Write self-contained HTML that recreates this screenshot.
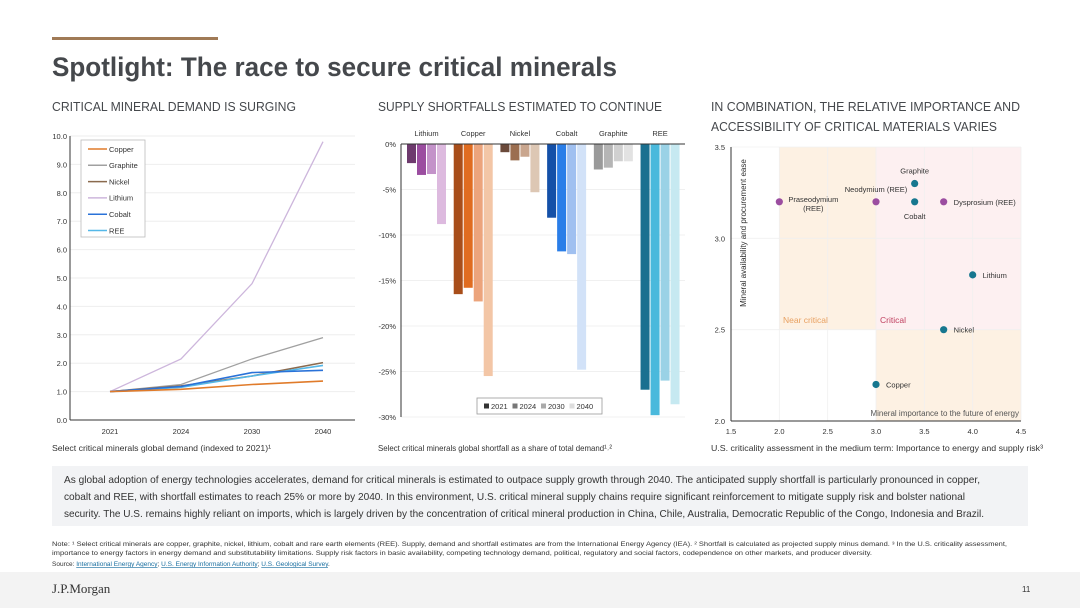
<!DOCTYPE html>
<html><head><meta charset="utf-8">
<style>
html,body{margin:0;padding:0;background:#fff;}
svg{display:block;font-family:"Liberation Sans Narrow","Liberation Sans",sans-serif;}
</style></head>
<body>
<svg id="s" width="1080" height="608" viewBox="0 0 1080 608" xmlns="http://www.w3.org/2000/svg">
<rect x="52" y="37" width="166" height="3" fill="#a07a56"/>
<text x="52" y="76" font-size="27" font-weight="bold" fill="#45484c" textLength="565" lengthAdjust="spacingAndGlyphs">Spotlight: The race to secure critical minerals</text>
<g font-size="13" fill="#45484c">
<text x="52" y="111" textLength="244" lengthAdjust="spacingAndGlyphs">CRITICAL MINERAL DEMAND IS SURGING</text>
<text x="378" y="111" textLength="284" lengthAdjust="spacingAndGlyphs">SUPPLY SHORTFALLS ESTIMATED TO CONTINUE</text>
<text x="711" y="111" textLength="309" lengthAdjust="spacingAndGlyphs">IN COMBINATION, THE RELATIVE IMPORTANCE AND</text>
<text x="711" y="131" textLength="286" lengthAdjust="spacingAndGlyphs">ACCESSIBILITY OF CRITICAL MATERIALS VARIES</text>
</g>
<g font-size="8.5" fill="#333">
<text x="52" y="451" textLength="219" lengthAdjust="spacingAndGlyphs">Select critical minerals global demand (indexed to 2021)¹</text>
<text x="378" y="451" textLength="234" lengthAdjust="spacingAndGlyphs">Select critical minerals global shortfall as a share of total demand¹˒²</text>
<text x="711" y="451" textLength="332" lengthAdjust="spacingAndGlyphs">U.S. criticality assessment in the medium term: Importance to energy and supply risk³</text>
</g>
<g id="g1"></g>
<g id="g2"></g>
<g id="g3"></g>
<rect x="52" y="466" width="976" height="60" fill="#f2f3f5"/>
<g font-size="10.5" fill="#333">
<text x="64" y="483" textLength="916" lengthAdjust="spacingAndGlyphs">As global adoption of energy technologies accelerates, demand for critical minerals is estimated to outpace supply growth through 2040. The anticipated supply shortfall is particularly pronounced in copper,</text>
<text x="64" y="500" textLength="901" lengthAdjust="spacingAndGlyphs">cobalt and REE, with shortfall estimates to reach 25% or more by 2040. In this environment, U.S. critical mineral supply chains require significant reinforcement to mitigate supply risk and bolster national</text>
<text x="64" y="517" textLength="920" lengthAdjust="spacingAndGlyphs">security. The U.S. remains highly reliant on imports, which is largely driven by the concentration of critical mineral production in China, Chile, Australia, Democratic Republic of the Congo, Indonesia and Brazil.</text>
</g>
<g font-size="6.5" fill="#333">
<text x="52" y="546" textLength="955" lengthAdjust="spacingAndGlyphs">Note: ¹ Select critical minerals are copper, graphite, nickel, lithium, cobalt and rare earth elements (REE). Supply, demand and shortfall estimates are from the International Energy Agency (IEA). ² Shortfall is calculated as projected supply minus demand. ³ In the U.S. criticality assessment,</text>
<text x="52" y="555" textLength="820" lengthAdjust="spacingAndGlyphs">importance to energy factors in energy demand and substitutability limitations. Supply risk factors in basic availability, competing technology demand, political, regulatory and social factors, codependence on other markets, and producer diversity.</text>
<text x="52" y="566">Source: <tspan fill="#1a6fa0" text-decoration="underline">International Energy Agency</tspan>; <tspan fill="#1a6fa0" text-decoration="underline">U.S. Energy Information Authority</tspan>; <tspan fill="#1a6fa0" text-decoration="underline">U.S. Geological Survey</tspan>.</text>
</g>
<rect x="0" y="572" width="1080" height="36" fill="#f3f3f3"/>
<text x="52" y="593" font-family="Liberation Serif,serif" font-size="13" fill="#333">J.P.Morgan</text>
<text x="1022" y="592" font-size="8" fill="#333">11</text>
</svg>
<script>
// ---- Chart 1 data ----
const demandYears = ["2021","2024","2030","2040"];
const demandNames = ["Copper","Graphite","Nickel","Lithium","Cobalt","REE"];
const copperDemand = [1.0,1.08,1.25,1.37];
const graphiteDemand = [1.0,1.25,2.15,2.9];
const nickelDemand = [1.0,1.2,1.55,2.02];
const lithiumDemand = [1.0,2.15,4.8,9.8];
const cobaltDemand = [1.0,1.18,1.67,1.75];
const reeDemand = [1.0,1.15,1.55,1.92];
const demandTicks = ["0.0","1.0","2.0","3.0","4.0","5.0","6.0","7.0","8.0","9.0","10.0"];
// ---- Chart 2 data ----
const shortMinerals = ["Lithium","Copper","Nickel","Cobalt","Graphite","REE"];
const shortYears = ["2021","2024","2030","2040"];
const lithiumShort = [-2.1,-3.4,-3.3,-8.8];
const copperShort = [-16.5,-15.8,-17.3,-25.5];
const nickelShort = [-0.9,-1.8,-1.4,-5.3];
const cobaltShort = [-8.1,-11.8,-12.1,-24.8];
const graphiteShort = [-2.8,-2.6,-1.9,-1.9];
const reeShort = [-27.0,-29.8,-26.0,-28.6];
const shortTicks = ["0%","-5%","-10%","-15%","-20%","-25%","-30%"];
// ---- Chart 3 data ----
const pointNames = ["Praseodymium (REE)","Neodymium (REE)","Graphite","Cobalt","Dysprosium (REE)","Lithium","Nickel","Copper"];
const pointX = [2.0,3.0,3.4,3.4,3.7,4.0,3.7,3.0];
const pointY = [3.2,3.2,3.3,3.2,3.2,2.8,2.5,2.2];
const pointREE = [1,1,0,0,1,0,0,0];
const xTicks = ["1.5","2.0","2.5","3.0","3.5","4.0","4.5"];
const yTicks = ["2.0","2.5","3.0","3.5"];

const NS="http://www.w3.org/2000/svg";
function mk(p,tag,a,txt){const e=document.createElementNS(NS,tag);for(const k in a)e.setAttribute(k,a[k]);if(txt!==undefined)e.textContent=txt;p.appendChild(e);return e;}

// Chart 1
(function(){
const g=document.getElementById('g1');
const x0=70,x1=355,yb=420,yt=136;
const ys=v=>yb-(v/10)*(yb-yt);
const xs=i=>110+i*71;
demandTicks.forEach((t,i)=>{const v=parseFloat(t);
 if(i>0){const l=mk(g,'line',{x1:x0,x2:x1,y1:ys(v),y2:ys(v),stroke:'#eeeeee','stroke-width':1});
 
 }
 const tx=mk(g,'text',{x:67,y:ys(v)+3,'font-size':7.5,fill:'#333','text-anchor':'end'},t);
 
 });
mk(g,'line',{x1:x0,x2:x0,y1:yt,y2:yb,stroke:'#333','stroke-width':1});
mk(g,'line',{x1:x0,x2:x1,y1:yb,y2:yb,stroke:'#333','stroke-width':1});
demandYears.forEach((t,i)=>{const tx=mk(g,'text',{x:xs(i),y:434,'font-size':7.5,fill:'#333','text-anchor':'middle'},t);
 
 });
const series=[copperDemand,graphiteDemand,nickelDemand,lithiumDemand,cobaltDemand,reeDemand];
const cols=['#e07b2a','#a0a0a0','#8a6a4e','#cdb6dc','#2a72d8','#55b8e8'];
const order=[3,1,2,5,4,0];
order.forEach(k=>{const d=series[k].map((v,i)=>(i?'L':'M')+xs(i)+','+ys(v)).join(' ');
 const p=mk(g,'path',{d:d,fill:'none',stroke:cols[k],'stroke-width':(k==3||k==1)?1.3:1.6});
 
 });
const lg=mk(g,'g',{});


mk(lg,'rect',{x:81,y:140,width:64,height:97,fill:'#fff',stroke:'#bbb','stroke-width':0.8});
demandNames.forEach((n,i)=>{const y=149+i*16.3;
 mk(lg,'line',{x1:88,x2:107,y1:y,y2:y,stroke:cols[i],'stroke-width':1.5});
 const t=mk(lg,'text',{x:109,y:y+2.8,'font-size':7.5,fill:'#333'},n);
 
 });
})();

// Chart 2
(function(){
const g=document.getElementById('g2');
const x0=401,x1=685,y0=144,y30=417;
const ys=v=>y0+(-v/30)*(y30-y0);
shortTicks.forEach((t,i)=>{const y=y0+i*(y30-y0)/6;
 if(i>0){const l=mk(g,'line',{x1:x0,x2:x1,y1:y,y2:y,stroke:'#f0f0f0','stroke-width':1});
 
 }
 const tx=mk(g,'text',{x:396,y:y+3,'font-size':7.5,fill:'#333','text-anchor':'end'},t);
 
 });
const data=[lithiumShort,copperShort,nickelShort,cobaltShort,graphiteShort,reeShort];
const cols=[['#6e3a6e','#9b4da0','#c392c9','#ddbadf'],['#a84e1a','#e06c20','#eca47c','#f3c6a6'],['#6b4a3a','#9b6e50','#c9a68e','#ddc7b4'],['#1450a8','#2a7ee8','#a0c0f0','#d2e2f8'],['#9a9a9a','#b5b5b5','#d0d0d0','#e2e2e2'],['#1a7090','#4ab9dc','#9ad2e6','#c6e9f1']];
const gw=(x1-x0)/6.08;
data.forEach((vals,gi)=>{const gx=x0+6+gi*gw;
 const t=mk(g,'text',{x:gx+19.5,y:136,'font-size':7.5,fill:'#333','text-anchor':'middle'},shortMinerals[gi]);
 
 
 vals.forEach((v,bi)=>{const r=mk(g,'rect',{x:gx+bi*10,y:y0,width:9,height:ys(v)-y0,fill:cols[gi][bi]});
  
  });});
mk(g,'line',{x1:x0,x2:x1,y1:y0,y2:y0,stroke:'#333','stroke-width':1});
mk(g,'line',{x1:x0,x2:x0,y1:y0,y2:y30,stroke:'#333','stroke-width':1});
const lg=mk(g,'g',{});


mk(lg,'rect',{x:477,y:398,width:125,height:16,fill:'#fff',stroke:'#999','stroke-width':0.8});
const lc=['#333','#777','#aaa','#ddd'];
shortYears.forEach((yv,i)=>{const x=484+i*28.5;
 mk(lg,'rect',{x:x,y:403.5,width:5,height:5,fill:lc[i]});
 const t=mk(lg,'text',{x:x+7,y:409,'font-size':7.5,fill:'#333'},yv);
 
 });
})();

// Chart 3
(function(){
const g=document.getElementById('g3');
const xa=731,xb=1021,ya=421,yb=147;
const xs=v=>xa+(v-1.5)/3*(xb-xa);
const ys=v=>ya-(v-2.0)/1.5*(ya-yb);
const z1=mk(g,'rect',{x:xs(2),y:ys(3.5),width:xs(3)-xs(2),height:ys(2.5)-ys(3.5),fill:'#fdf1e3'});


const z2=mk(g,'rect',{x:xs(3),y:ys(3.5),width:xs(4.5)-xs(3),height:ys(2.5)-ys(3.5),fill:'#fdf0f1'});


const z3=mk(g,'rect',{x:xs(3),y:ys(2.5),width:xs(4.5)-xs(3),height:ys(2)-ys(2.5),fill:'#fdf1e3'});


xTicks.forEach(t=>{const v=parseFloat(t);
 mk(g,'line',{x1:xs(v),x2:xs(v),y1:yb,y2:ya,stroke:'#f0f0f0','stroke-width':0.8});
 const tx=mk(g,'text',{x:xs(v),y:434,'font-size':7.5,fill:'#333','text-anchor':'middle'},t);
 
 });
yTicks.forEach(t=>{const v=parseFloat(t);
 mk(g,'line',{x1:xa,x2:xb,y1:ys(v),y2:ys(v),stroke:'#f0f0f0','stroke-width':0.8});
 const tx=mk(g,'text',{x:725,y:ys(v)+3,'font-size':7.5,fill:'#333','text-anchor':'end'},t);
 
 });
mk(g,'line',{x1:xa,x2:xa,y1:yb,y2:ya,stroke:'#333','stroke-width':1});
mk(g,'line',{x1:xa,x2:xb,y1:ya,y2:ya,stroke:'#333','stroke-width':1});
const yl=mk(g,'text',{x:0,y:0,'font-size':8,fill:'#333','text-anchor':'middle',transform:'translate(746,233) rotate(-90)'},'Mineral availability and procurement ease');


const a=mk(g,'text',{x:783,y:323,'font-size':8.5,fill:'#e8a060'},'Near critical');


const b=mk(g,'text',{x:880,y:323,'font-size':8.5,fill:'#c04060'},'Critical');


const c=mk(g,'text',{x:1019,y:416,'font-size':8,fill:'#555','text-anchor':'end'},'Mineral importance to the future of energy');


const lab=[[10,-2,'start'],[0,-10,'middle'],[0,-10,'middle'],[0,17,'middle'],[10,3,'start'],[10,3,'start'],[10,3,'start'],[10,3,'start']];
pointNames.forEach((n,i)=>{const cx=xs(pointX[i]),cy=ys(pointY[i]);
 const p=mk(g,'circle',{cx:cx,cy:cy,r:3.6,fill:pointREE[i]?'#9b4da0':'#17778f'});
 
 
 const L=lab[i];
 if(i==0){
  const t=mk(g,'text',{x:cx+34,y:cy,'font-size':7.5,fill:'#333','text-anchor':'middle'},'Praseodymium');
  
  
  const t2=mk(g,'text',{x:cx+34,y:cy+9,'font-size':7.5,fill:'#333','text-anchor':'middle'},'(REE)');
  
  
 } else {
  const t=mk(g,'text',{x:cx+L[0],y:cy+L[1],'font-size':7.5,fill:'#333','text-anchor':L[2]},n);
  
  
 }});
})();
</script>
</body></html>
